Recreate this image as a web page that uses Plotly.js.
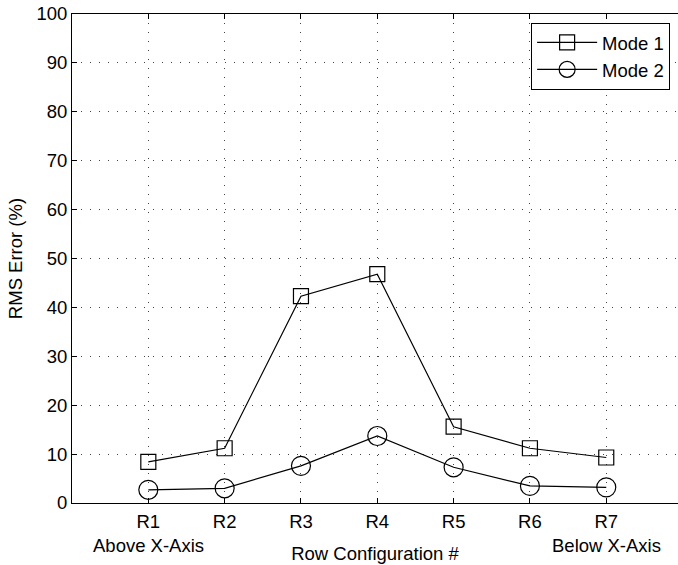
<!DOCTYPE html>
<html>
<head>
<meta charset="utf-8">
<script src="https://cdn.plot.ly/plotly-3.0.1.min.js"></script>
<style>html,body{margin:0;padding:0;background:#fff;}#chart{width:678px;height:565px;}</style>
</head>
<body>
<div id="chart"></div>
<script>
const categories = ["R1", "R2", "R3", "R4", "R5", "R6", "R7"];
const positions = [1, 2, 3, 4, 5, 6, 7];
const mode1 = [8.4, 11.2, 42.3, 46.8, 15.6, 11.2, 9.3];
const mode2 = [2.7, 3.0, 7.6, 13.7, 7.3, 3.5, 3.2];
const seriesNames = ["Mode 1", "Mode 2"];
const yTicks = [0, 10, 20, 30, 40, 50, 60, 70, 80, 90, 100];
const sideNotes = [{pos: 1, text: "Above X-Axis"}, {pos: 7, text: "Below X-Axis"}];

const fam = "Liberation Sans, Arial, sans-serif";
const fsz = 18.5;
const font = {family: fam, size: fsz, color: "#000"};

const traces = [
  {x: positions, y: mode1, name: seriesNames[0], type: "scatter", mode: "lines+markers",
   line: {color: "#000", width: 1.2},
   marker: {symbol: "square-open", size: 15, color: "#000", line: {width: 1.2, color: "#000"}}},
  {x: positions, y: mode2, name: seriesNames[1], type: "scatter", mode: "lines+markers",
   line: {color: "#000", width: 1.2},
   marker: {symbol: "circle-open", size: 19, color: "#000", line: {width: 1.2, color: "#000"}}}
];

const plotH = 565 - 14 - 62;

const layout = {
  width: 678, height: 565,
  margin: {l: 72, r: 0, t: 14, b: 62},
  paper_bgcolor: "#fff", plot_bgcolor: "#fff",
  font: font,
  showlegend: true,
  legend: {x: 0.987, y: 0.982, xanchor: "right", yanchor: "top",
           bordercolor: "#000", borderwidth: 1, bgcolor: "#fff",
           itemwidth: 60, tracegroupgap: 0,
           font: {family: fam, size: fsz, color: "#000"}},
  xaxis: {
    range: [0, 7.94], tickmode: "array", tickvals: positions, ticktext: categories,
    ticks: "inside", ticklen: 5, tickcolor: "#000", ticklabelstandoff: 2,
    showline: true, linecolor: "#000", linewidth: 1, mirror: "ticks",
    showgrid: true, gridcolor: "#444", gridwidth: 1, griddash: "1px,8px",
    zeroline: false, automargin: false,
    tickfont: font,
    title: {text: "Row Configuration #", standoff: 15, font: font}
  },
  yaxis: {
    range: [0, 100], tickmode: "array", tickvals: yTicks,
    ticks: "inside", ticklen: 5, tickcolor: "#000",
    showline: true, linecolor: "#000", linewidth: 1, mirror: false,
    showgrid: true, gridcolor: "#444", gridwidth: 1, griddash: "1px,8px",
    zeroline: false, automargin: false,
    tickfont: font,
    title: {text: "RMS Error (%)", standoff: 8, font: font}
  },
  annotations: sideNotes.map(n => ({
    x: n.pos, xref: "x", y: -(545 - 503) / plotH, yref: "paper",
    xanchor: "center", yanchor: "middle",
    text: n.text, showarrow: false, font: font
  }))
};

Plotly.newPlot("chart", traces, layout, {displayModeBar: false, staticPlot: true});
</script>
</body>
</html>
